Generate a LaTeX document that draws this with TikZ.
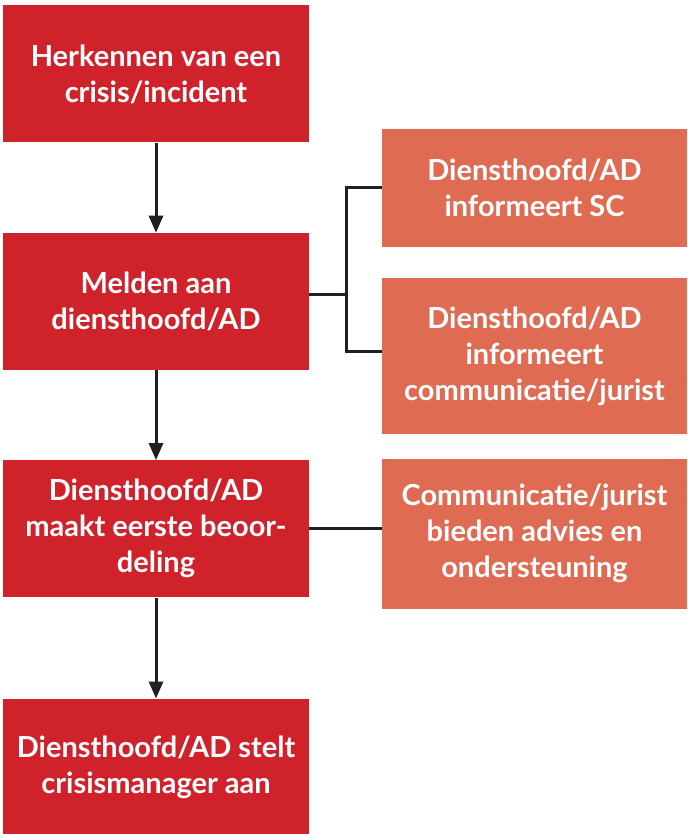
\documentclass[tikz,border=0pt]{standalone}
\usepackage{fontspec}
\setmainfont{Lato}
\usetikzlibrary{positioning,arrows.meta}
\definecolor{crisisred}{HTML}{D0222B}
\definecolor{crisisorange}{HTML}{DF6B53}
\definecolor{lijn}{HTML}{231F20}
\tikzset{
  redbox/.style={fill=crisisred,text=white,font=\fontsize{29}{36}\selectfont\bfseries,
    align=center,minimum width=306pt,minimum height=137pt,inner sep=0pt},
  orangebox/.style={fill=crisisorange,text=white,font=\fontsize{29}{36}\selectfont\bfseries,
    align=center,minimum width=305pt,inner sep=0pt},
  pijl/.style={draw=lijn,line width=3pt,-{Triangle[length=17pt,width=14pt]}},
  lijnstuk/.style={draw=lijn,line width=3pt}
}
\begin{document}
\begin{tikzpicture}
    \useasboundingbox (0,0) rectangle (687pt,-834pt);
      \node [redbox] (herkennen) at (156pt,-74pt) {Herkennen van een\\crisis/incident};
      \node [redbox,below=90pt of herkennen] (melden) {Melden aan\\diensthoofd/AD};
      \node [redbox,below=90pt of melden] (beoordeling) {Diensthoofd/AD\\maakt eerste beoor-\\deling};
      \node [redbox,below=101pt of beoordeling] (crisismanager) {Diensthoofd/AD stelt\\crisismanager aan};

      \node [orangebox,minimum height=118pt] (informeertSC) at (534.5pt,-188pt) {Diensthoofd/AD\\informeert SC};
      \node [orangebox,minimum height=156pt,below=31pt of informeertSC] (informeertJurist) {Diensthoofd/AD\\informeert\\communicatie/jurist};
      \node [orangebox,minimum height=150pt,below=24pt of informeertJurist] (advies) {Communicatie/jurist\\bieden advies en\\ondersteuning};

      \draw[pijl] (herkennen) -- (melden);
      \draw[pijl] (melden) -- (beoordeling);
      \draw[pijl] (beoordeling) -- (crisismanager);
      \coordinate[right=37pt of melden.east,yshift=7pt] (splitsing);
      \draw[lijnstuk] (melden.east |- splitsing) -- (splitsing);
      \draw[lijnstuk] (informeertSC.west) -| (splitsing) |- ([yshift=5pt]informeertJurist.west);
      \draw[lijnstuk] (beoordeling.east) -- (beoordeling.east -| advies.west);
    \end{tikzpicture}
\end{document}
